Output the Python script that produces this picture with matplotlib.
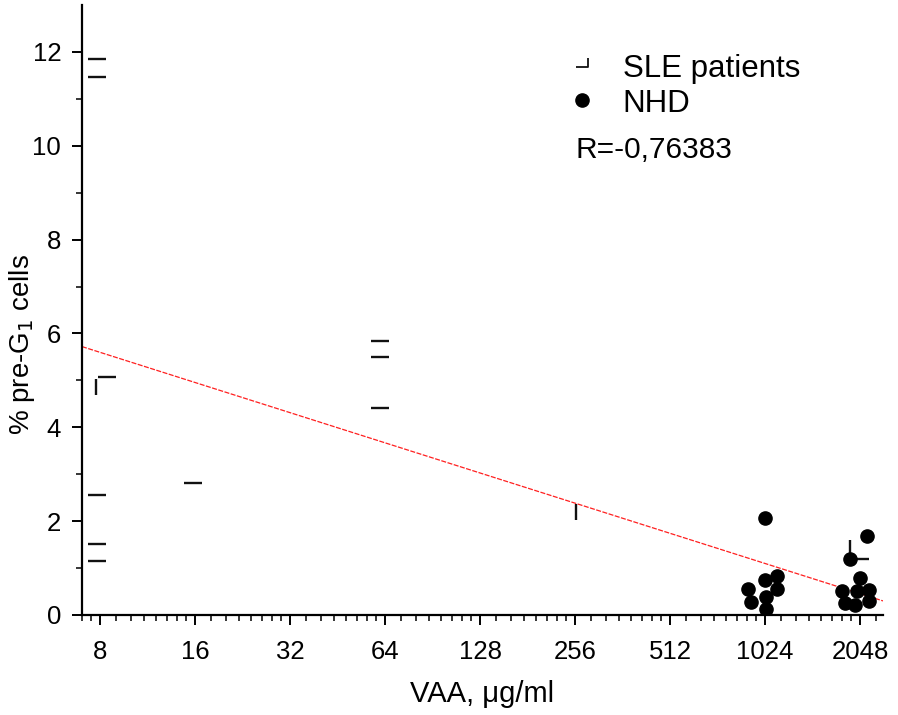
import numpy as np
import matplotlib
matplotlib.use("Agg")
import matplotlib.pyplot as plt
from matplotlib.path import Path
from matplotlib.ticker import LogLocator, FixedLocator, NullFormatter

plt.rcParams['font.family'] = ['Liberation Sans', 'DejaVu Sans']

# SLE patients, drawn as short horizontal dashes
sle_dash_x = [7.8, 7.8, 8.4, 7.8, 7.8, 7.8, 15.7, 61.7, 61.7, 61.7]
sle_dash_y = [11.84, 11.47, 5.08, 2.56, 1.52, 1.15, 2.82, 5.83, 5.49, 4.42]
# SLE patients, drawn as short vertical ticks
sle_tick_x = [7.75, 258]
sle_tick_y = [4.86, 2.2]
# SLE patient drawn as a corner mark
sle_corner_x = [1898]
sle_corner_y = [1.2]

# NHD
nhd_x = [1024, 906, 925, 1024, 1116, 1116, 1030, 1030,
         2151, 1898, 2048, 1791, 1830, 1975, 2000, 2190, 2180]
nhd_y = [2.07, 0.56, 0.28, 0.75, 0.83, 0.56, 0.38, 0.13,
         1.69, 1.2, 0.79, 0.51, 0.26, 0.21, 0.51, 0.53, 0.30]

# regression line end points
fit_x = [7.0, 2420]
fit_y = [5.72, 0.30]

xticks = [8, 16, 32, 64, 128, 256, 512, 1024, 2048]

corner_l = Path([(0, 1), (0, 0), (1, 0)], [Path.MOVETO, Path.LINETO, Path.LINETO])
corner_r = Path([(-1, 0), (0, 0), (0, 0.7)], [Path.MOVETO, Path.LINETO, Path.LINETO])

fig = plt.figure(figsize=(8.98, 7.15), dpi=100)
ax = fig.add_axes([82 / 898, 1 - 615 / 715, (883 - 82) / 898, (615 - 5) / 715])

ax.plot(fit_x, fit_y, color='#ff2020', lw=0.9, ls=(0, (4, 1.2)), zorder=2)

ax.plot(sle_dash_x, sle_dash_y, ls='none', marker='_', ms=13, mew=1.7, color='#111111', zorder=3)
ax.plot(sle_tick_x, sle_tick_y, ls='none', marker='|', ms=12, mew=1.7, color='#111111', zorder=3)
ax.plot(sle_corner_x, sle_corner_y, ls='none', marker=corner_l, ms=27, mew=1.7,
        mfc='none', color='#111111', zorder=3)
ax.plot(nhd_x, nhd_y, ls='none', marker='o', ms=9.5, color='black', zorder=4)

ax.set_xscale('log', base=2)
ax.set_xlim(7.0, 2420)
ax.set_ylim(0, 13)
ax.xaxis.set_major_locator(FixedLocator(xticks))
ax.set_xticklabels([str(v) for v in xticks])
ax.xaxis.set_minor_locator(LogLocator(base=2, subs=np.arange(1.125, 2.0, 0.125), numticks=100))
ax.xaxis.set_minor_formatter(NullFormatter())
ax.set_yticks(range(0, 13, 2))
ax.set_yticks(range(1, 13, 2), minor=True)

for s in ['top', 'right']:
    ax.spines[s].set_visible(False)
for s in ['left', 'bottom']:
    ax.spines[s].set_linewidth(1.6)

ax.tick_params(which='major', direction='out', length=7, width=1.4, labelsize=18.5, pad=8)
ax.tick_params(axis='x', which='major', pad=11)
ax.tick_params(which='minor', direction='out', length=4, width=1.1)

ax.set_xlabel('VAA, μg/ml', fontsize=21)
ax.xaxis.set_label_coords(0.5, -0.106)
ax.set_ylabel('% pre-G$_1$ cells', fontsize=20)
ax.yaxis.set_label_coords(-0.056, 0.443)

# legend drawn by hand
ax.plot([0.632], [0.898], transform=ax.transAxes, ls='none', marker=corner_r, ms=18,
        mew=1.3, mfc='none', color='#111111', clip_on=False)
ax.text(0.675, 0.882, 'SLE patients', transform=ax.transAxes, fontsize=22.5, va='baseline')
ax.plot([0.624], [0.844], transform=ax.transAxes, ls='none', marker='o', ms=9.5,
        color='black', clip_on=False)
ax.text(0.675, 0.8246, 'NHD', transform=ax.transAxes, fontsize=22.5, va='baseline')
ax.text(0.6155, 0.749, 'R=-0,76383', transform=ax.transAxes, fontsize=21.5, va='baseline')

fig.savefig('out.png', dpi=100)
